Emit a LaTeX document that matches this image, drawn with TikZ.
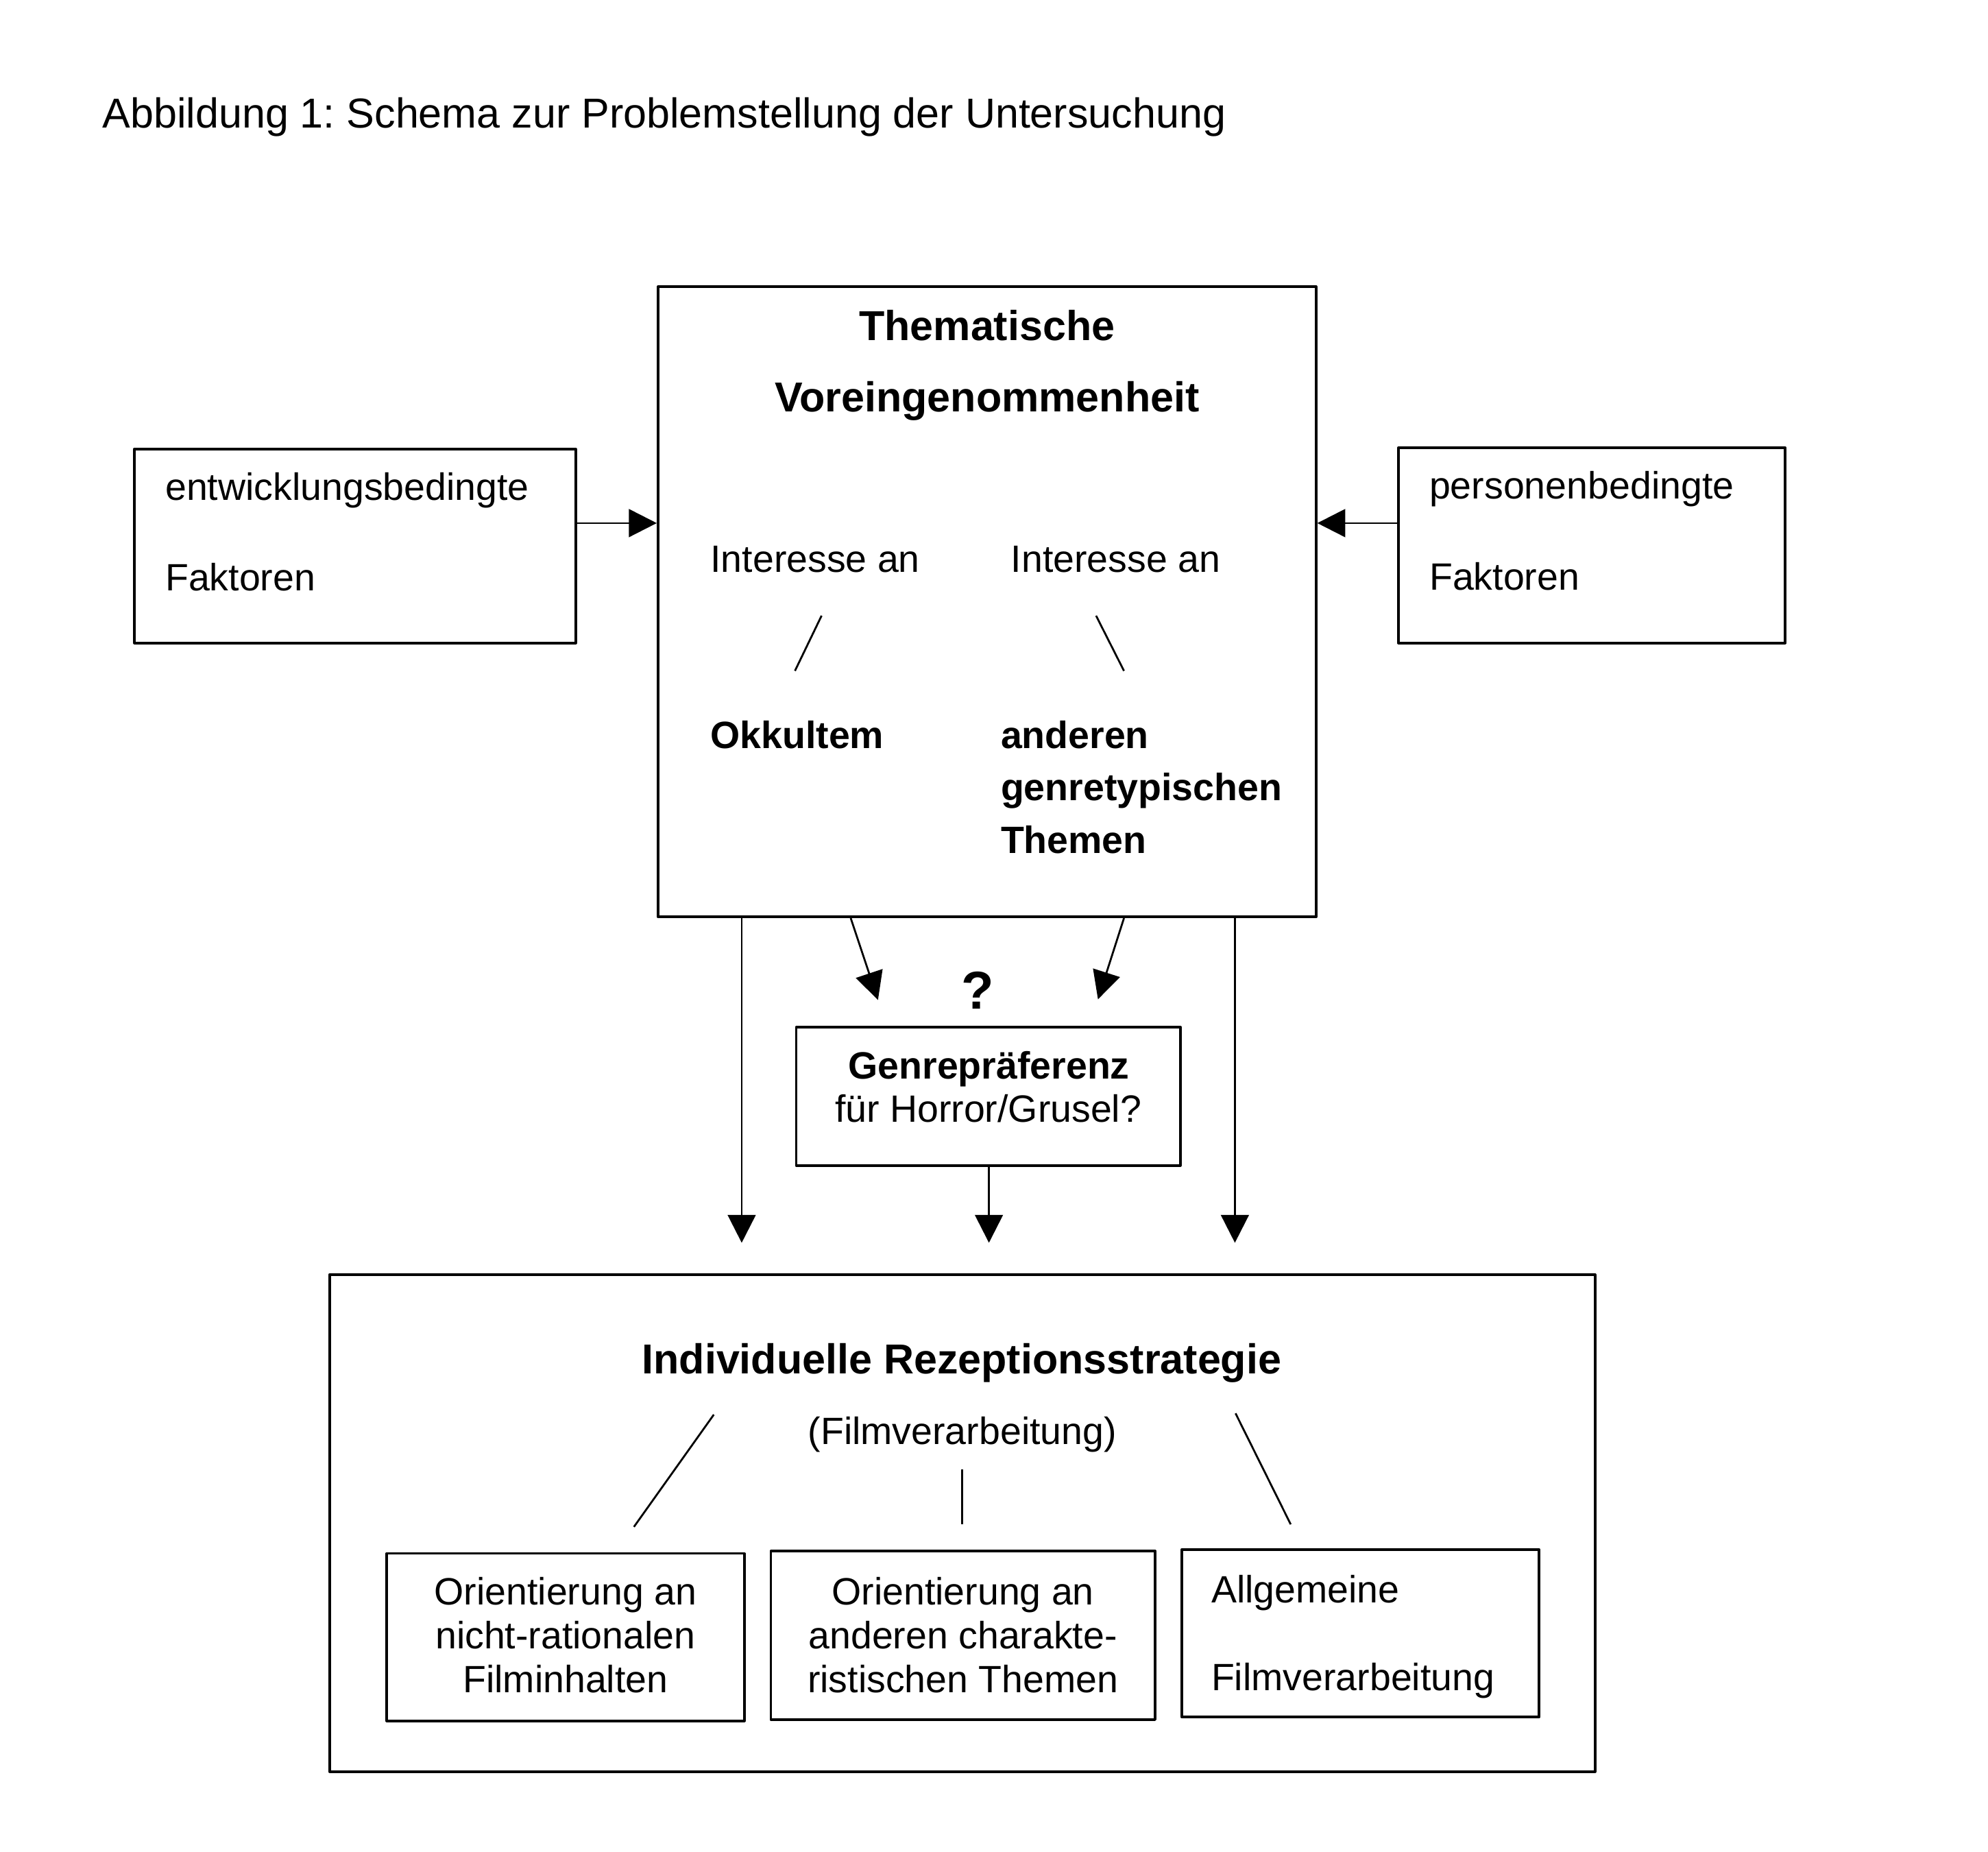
\documentclass[tikz,border=0pt]{standalone}
\usepackage{fontspec}
\setmainfont{Liberation Sans}
\usetikzlibrary{arrows.meta}
\frenchspacing

\begin{document}
\begin{tikzpicture}[x=0.5pt, y=-0.5pt, >={Triangle[length=11pt, width=11pt]}, line join=round,
		kasten/.style 2 args={draw, line width=1pt, inner sep=0pt, minimum width=#1, minimum height=#2},
		txt/.style={inner sep=0pt, font=\fontsize{15}{18}\selectfont},
		fett/.style={inner sep=0pt, font=\fontsize{15}{18}\selectfont\bfseries},
		gross/.style={inner sep=0pt, font=\fontsize{16.5}{20}\selectfont},
		linie/.style={line width=0.75pt},
		pfeil/.style={->, line width=0.75pt}]
	\useasboundingbox (0,0) rectangle (1568,1460);
	% Titel
	\node[gross, anchor=base west] (titel) at (80.5,101) {Abbildung 1: Schema zur Problemstellung der Untersuchung};
	% Kaesten
	\node[kasten={174pt}{76.5pt}] (links) at (280,430.5) {};
	\node[kasten={259.5pt}{248.5pt}] (thema) at (778.5,474.5) {};
	\node[kasten={152.5pt}{77pt}] (rechts) at (1255.5,430) {};
	\node[kasten={151.5pt}{54.5pt}] (genre) at (779.5,864.5) {};
	\node[kasten={499pt}{196pt}] (strategie) at (759,1201) {};
	\node[kasten={141pt}{66pt}] (ori1) at (446,1291) {};
	\node[kasten={151.5pt}{66.5pt}] (ori2) at (759.5,1289.5) {};
	\node[kasten={141pt}{66pt}] (ori3) at (1073,1288) {};
	% Faktoren
	\node[txt, anchor=base west] (links1) at (130,394.5) {entwicklungsbedingte};
	\node[txt, anchor=base west] (links2) at (130,466) {Faktoren};
	\node[txt, anchor=base west] (rechts1) at (1127,393.5) {personenbedingte};
	\node[txt, anchor=base west] (rechts2) at (1127,465.5) {Faktoren};
	% Thematische Voreingenommenheit
	\node[gross, font=\fontsize{16.5}{20}\selectfont\bfseries, anchor=base] (thema1) at (778.5,268.5) {Thematische};
	\node[gross, font=\fontsize{16.5}{20}\selectfont\bfseries, anchor=base] (thema2) at (778.5,324.5) {Voreingenommenheit};
	\node[txt, anchor=base west] (int-l) at (560,451) {Interesse an};
	\node[txt, anchor=base west] (int-r) at (797,451) {Interesse an};
	\draw[linie] (648,485.5) -- (627,529);
	\draw[linie] (864.5,485.5) -- (886.5,529);
	\node[fett, anchor=base west] (okkult) at (560,590) {Okkultem};
	\foreach \zeile [count=\i] in {anderen, genretypischen, Themen}
		\node[fett, anchor=base west] (genrethema-\i) at (789,{548.5+41.5*\i}) {\zeile};
	% Pfeile
	\coordinate (hoehe) at (0,412.5);
	\coordinate (ziel-l) at (585,980);
	\coordinate (ziel-m) at (780,980);
	\coordinate (ziel-r) at (974,980);
	\coordinate (start-ql) at (671,0);
	\coordinate (spitze-ql) at (692.5,788.5);
	\coordinate (start-qr) at (886.5,0);
	\coordinate (spitze-qr) at (866,788);
	\draw[pfeil] (links.east |- hoehe) -- (thema.west |- hoehe);
	\draw[pfeil] (rechts.west |- hoehe) -- (thema.east |- hoehe);
	\draw[pfeil] (thema.south -| ziel-l) -- (ziel-l);
	\draw[pfeil] (thema.south -| ziel-r) -- (ziel-r);
	\draw[pfeil] (thema.south -| start-ql) -- (spitze-ql);
	\draw[pfeil] (thema.south -| start-qr) -- (spitze-qr);
	\draw[pfeil] (genre.south -| ziel-m) -- (ziel-m);
	% Genrepraeferenz
	\node[fett, font=\fontsize{21}{24}\selectfont\bfseries, anchor=base] (frage) at (771,795.5) {?};
	\node[fett, anchor=base] (genre1) at (780,850.5) {Genrepräferenz};
	\node[txt, anchor=base] (genre2) at (779.5,885) {für Horror/Grusel?};
	% Rezeptionsstrategie
	\node[gross, font=\fontsize{16.5}{20}\selectfont\bfseries, anchor=base] (strat1) at (758.5,1083) {Individuelle Rezeptionsstrategie};
	\node[txt, anchor=base] (strat2) at (759,1139) {(Filmverarbeitung)};
	\draw[linie] (563,1115.5) -- (500,1204);
	\draw[linie] (759,1158.5) -- (759,1202);
	\draw[linie] (974.5,1114.5) -- (1018,1202);
	\foreach \zeile [count=\i] in {Orientierung an, nicht-rationalen, Filminhalten}
		\node[txt, anchor=base] (ori1-\i) at (446,{1231+34.5*\i}) {\zeile};
	\foreach \zeile [count=\i] in {Orientierung an, anderen charakte-, ristischen Themen}
		\node[txt, anchor=base] (ori2-\i) at (759.5,{1231+34.5*\i}) {\zeile};
	\node[txt, anchor=base west] (ori3-1) at (955,1264) {Allgemeine};
	\node[txt, anchor=base west] (ori3-2) at (955,1333) {Filmverarbeitung};
\end{tikzpicture}
\end{document}
